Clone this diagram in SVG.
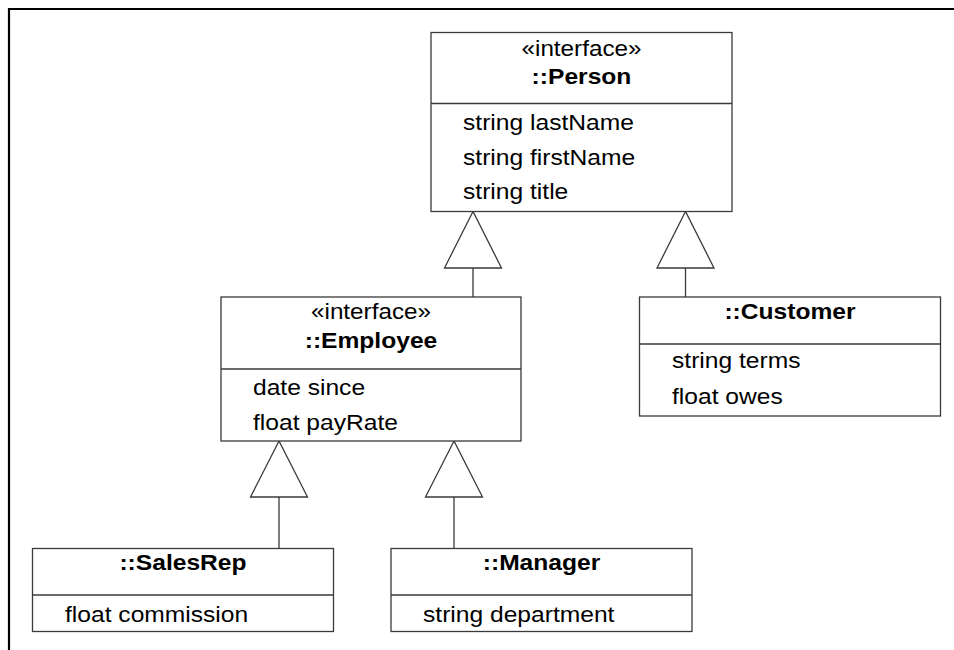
<svg xmlns="http://www.w3.org/2000/svg" width="954" height="650" viewBox="0 0 954 650">
  <style>
    .box { fill: #ffffff; stroke: #3a3a3a; stroke-width: 1.3; }
    .div { stroke: #3a3a3a; stroke-width: 1.3; }
    .t { font-family: "Liberation Sans", Arial, sans-serif; font-size: 22px; fill: #000; }
    .b { font-weight: bold; text-anchor: middle; }
    .c { text-anchor: middle; }
    .gen { fill: #ffffff; stroke: #3a3a3a; stroke-width: 1.3; }
    .ln { stroke: #3a3a3a; stroke-width: 1.3; fill: none; }
    .frame { stroke: #000; stroke-width: 2.2; fill: none; }
  </style>
  <rect width="954" height="650" fill="#ffffff"/>
  <path class="frame" d="M9,650 V9 H954"/>

  <g id="connectors">
    <path class="ln" d="M473,268 V297"/>
    <polygon class="gen" points="473,211.5 444.5,268 501.5,268"/>
    <path class="ln" d="M685.5,268 V297"/>
    <polygon class="gen" points="685.5,211.5 657,268 714,268"/>
    <path class="ln" d="M279,497 V548.5"/>
    <polygon class="gen" points="279,441 250.5,497 307.5,497"/>
    <path class="ln" d="M454,497 V548.5"/>
    <polygon class="gen" points="454,441 425.5,497 482.5,497"/>
  </g>

  <g id="person">
    <rect class="box" x="431" y="32.5" width="301" height="179"/>
    <line class="div" x1="431" y1="103.5" x2="732" y2="103.5"/>
    <text class="t c" x="581.5" y="56" textLength="120" lengthAdjust="spacingAndGlyphs">«interface»</text>
    <text class="t b" x="581.5" y="84" textLength="99.8" lengthAdjust="spacingAndGlyphs">::Person</text>
    <text class="t" x="463" y="129.5" textLength="170.9" lengthAdjust="spacingAndGlyphs">string lastName</text>
    <text class="t" x="463" y="164.5" textLength="172.2" lengthAdjust="spacingAndGlyphs">string firstName</text>
    <text class="t" x="463" y="199" textLength="105.3" lengthAdjust="spacingAndGlyphs">string title</text>
  </g>

  <g id="employee">
    <rect class="box" x="221" y="297" width="300" height="144"/>
    <line class="div" x1="221" y1="369" x2="521" y2="369"/>
    <text class="t c" x="371" y="319" textLength="120" lengthAdjust="spacingAndGlyphs">«interface»</text>
    <text class="t b" x="371" y="348" textLength="132.6" lengthAdjust="spacingAndGlyphs">::Employee</text>
    <text class="t" x="253" y="395" textLength="112.1" lengthAdjust="spacingAndGlyphs">date since</text>
    <text class="t" x="253" y="430" textLength="144.9" lengthAdjust="spacingAndGlyphs">float payRate</text>
  </g>

  <g id="customer">
    <rect class="box" x="639.5" y="297" width="301" height="119"/>
    <line class="div" x1="639.5" y1="344" x2="940.5" y2="344"/>
    <text class="t b" x="790" y="319" textLength="131.2" lengthAdjust="spacingAndGlyphs">::Customer</text>
    <text class="t" x="672" y="368" textLength="128.5" lengthAdjust="spacingAndGlyphs">string terms</text>
    <text class="t" x="672" y="404" textLength="110.7" lengthAdjust="spacingAndGlyphs">float owes</text>
  </g>

  <g id="salesrep">
    <rect class="box" x="32.5" y="548.5" width="301" height="83"/>
    <line class="div" x1="32.5" y1="595" x2="333.5" y2="595"/>
    <text class="t b" x="183" y="570" textLength="127.1" lengthAdjust="spacingAndGlyphs">::SalesRep</text>
    <text class="t" x="65" y="621.5" textLength="183.2" lengthAdjust="spacingAndGlyphs">float commission</text>
  </g>

  <g id="manager">
    <rect class="box" x="391" y="548.5" width="301" height="83"/>
    <line class="div" x1="391" y1="595" x2="692" y2="595"/>
    <text class="t b" x="541.5" y="570" textLength="117.5" lengthAdjust="spacingAndGlyphs">::Manager</text>
    <text class="t" x="423" y="621.5" textLength="191.4" lengthAdjust="spacingAndGlyphs">string department</text>
  </g>
</svg>
